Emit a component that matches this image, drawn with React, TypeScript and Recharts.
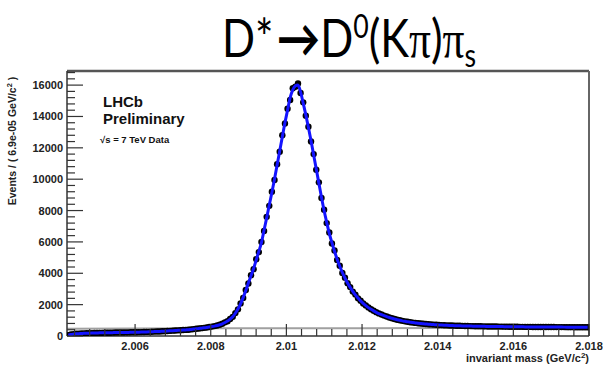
import { ComposedChart, Line, Scatter, XAxis, YAxis, ReferenceLine } from "recharts";

// D* -> D0(K pi) pi_s invariant mass, LHCb preliminary
const X_MIN = 2.0042;
const X_MAX = 2.018;
const BIN_WIDTH = 6.9e-5;
const Y_MAX = 16900;

const X_LABELS = [2.006, 2.008, 2.01, 2.012, 2.014, 2.016, 2.018];
const Y_LABELS = [0, 2000, 4000, 6000, 8000, 10000, 12000, 14000, 16000];

// events per bin (200 bins)
const EVENTS = [
  50, 95, 120, 140, 150, 160, 170, 175, 180, 185,
  190, 195, 200, 200, 205, 210, 210, 215, 220, 220,
  225, 225, 230, 230, 235, 240, 240, 245, 250, 255,
  260, 265, 270, 280, 285, 290, 300, 310, 320, 330,
  340, 350, 360, 370, 380, 390, 400, 420, 440, 460,
  480, 500, 520, 545, 575, 600, 630, 670, 720, 780,
  870, 940, 1090, 1220, 1460, 1700, 2080, 2430, 2930, 3350,
  3880, 4260, 4900, 5350, 6000, 6700, 7600, 8300, 9200, 9950,
  10950, 11750, 12800, 13550, 14500, 15050, 15800, 15900, 16100, 15500,
  14900, 14050, 13350, 12400, 11600, 10600, 9800, 8800, 8050, 7200,
  6600, 5900, 5450, 4850, 4480, 4020, 3720, 3360, 3120, 2830,
  2640, 2400, 2250, 2070, 1950, 1820, 1710, 1610, 1520, 1440,
  1370, 1300, 1240, 1180, 1130, 1085, 1040, 1000, 965, 935,
  905, 880, 855, 835, 815, 798, 782, 767, 752, 740,
  728, 716, 705, 695, 686, 678, 671, 665, 659, 654,
  649, 644, 640, 636, 632, 628, 625, 622, 619, 616,
  613, 610, 607, 605, 603, 601, 599, 597, 595, 593,
  591, 589, 587, 585, 583, 581, 580, 579, 578, 577,
  576, 575, 574, 573, 572, 571, 570, 569, 568, 567,
  566, 565, 564, 563, 562, 561, 560, 559, 558, 557,
];

// fitted model per bin
const FIT = [
  50, 95, 120, 140, 150, 160, 170, 175, 180, 185,
  190, 195, 200, 200, 205, 210, 210, 215, 220, 220,
  225, 225, 230, 230, 235, 240, 240, 245, 250, 255,
  260, 265, 270, 280, 285, 290, 300, 310, 320, 330,
  340, 350, 360, 370, 380, 390, 400, 420, 440, 460,
  480, 500, 520, 545, 575, 600, 630, 670, 720, 780,
  860, 950, 1080, 1230, 1450, 1720, 2050, 2450, 2900, 3380,
  3850, 4300, 4850, 5400, 5950, 6750, 7530, 8350, 9150, 10000,
  10900, 11800, 12700, 13600, 14400, 15200, 15700, 15950, 16000, 15550,
  14850, 14100, 13300, 12450, 11550, 10650, 9750, 8850, 8000, 7250,
  6550, 5950, 5400, 4900, 4450, 4050, 3700, 3380, 3100, 2850,
  2620, 2420, 2240, 2080, 1940, 1810, 1700, 1600, 1510, 1430,
  1360, 1295, 1235, 1180, 1130, 1085, 1040, 1000, 965, 935,
  905, 880, 855, 835, 815, 798, 782, 767, 752, 740,
  728, 716, 705, 695, 686, 678, 671, 665, 659, 654,
  649, 644, 640, 636, 632, 628, 625, 622, 619, 616,
  613, 610, 607, 605, 603, 601, 599, 597, 595, 593,
  591, 589, 587, 585, 583, 581, 580, 579, 578, 577,
  576, 575, 574, 573, 572, 571, 570, 569, 568, 567,
  566, 565, 564, 563, 562, 561, 560, 559, 558, 557,
];

// background component
const BKG_MASS = [2.0042, 2.006, 2.008, 2.01, 2.012, 2.014, 2.016, 2.018];
const BKG = [470, 480, 490, 495, 500, 505, 510, 515];

const data = EVENTS.map((v, i) => ({
  mass: X_MIN + (i + 0.5) * BIN_WIDTH,
  events: v,
  fit: FIT[i],
}));
const bkgData = BKG_MASS.map((m, i) => ({ mass: m, bkg: BKG[i] }));

const r5 = (v: number) => Math.round(v * 1e5) / 1e5;
const xTicks: number[] = [];
for (let k = 0; k <= 35; k++) {
  const t = r5(2.0044 + k * 0.0004);
  if (t <= X_MAX) xTicks.push(t);
}
const yTicks: number[] = [];
for (let v = 0; v <= 16800; v += 400) yTicks.push(v);

const isMajorX = (v: number) => X_LABELS.some((l) => Math.abs(l - v) < 1e-6);
const AXIS = "#333";
const FONT = "'Liberation Sans', Arial, sans-serif";

function XTick(props: any) {
  const { x, y, payload } = props;
  const major = isMajorX(payload.value);
  return (
    <g>
      <line x1={x} y1={y} x2={x} y2={y - (major ? 12 : 7)} stroke={AXIS} strokeWidth={1.2} />
      {major && (
        <text x={x} y={y + 14} textAnchor="middle" fontSize={11} fontWeight="bold" fontFamily={FONT} fill="#222">
          {String(payload.value)}
        </text>
      )}
    </g>
  );
}

function YTick(props: any) {
  const { x, y, payload } = props;
  const major = Y_LABELS.includes(payload.value);
  return (
    <g>
      <line x1={x} y1={y} x2={x + (major ? 16 : 8)} y2={y} stroke={AXIS} strokeWidth={1.2} />
      {major && (
        <text x={x - 4} y={y + 4} textAnchor="end" fontSize={11} fontWeight="bold" fontFamily={FONT} fill="#222">
          {payload.value}
        </text>
      )}
    </g>
  );
}

const DataDot = (props: any) => <circle cx={props.cx} cy={props.cy} r={3.2} fill="#000" />;

export default function App() {
  return (
    <div style={{ position: "absolute", left: 0, top: 0, width: 603, height: 367, background: "#fff" }}>
      <ComposedChart
        width={603}
        height={367}
        data={data}
        margin={{ top: 71, right: 14, bottom: 0, left: 0 }}
      >
        <XAxis
          dataKey="mass"
          type="number"
          domain={[X_MIN, X_MAX]}
          allowDataOverflow
          ticks={xTicks}
          interval={0}
          height={31}
          tickSize={0}
          tickMargin={0}
          tickLine={false}
          tick={<XTick />}
          axisLine={{ stroke: AXIS, strokeWidth: 1.5 }}
        />
        <YAxis
          type="number"
          domain={[0, Y_MAX]}
          allowDataOverflow
          ticks={yTicks}
          interval={0}
          width={67}
          tickSize={0}
          tickMargin={0}
          tickLine={false}
          tick={<YTick />}
          axisLine={{ stroke: AXIS, strokeWidth: 1.5 }}
        />
        <ReferenceLine y={Y_MAX} stroke="#555" strokeWidth={2.5} />
        <ReferenceLine x={X_MAX} stroke="#666" strokeWidth={2} />
        <Line
          data={bkgData}
          dataKey="bkg"
          type="linear"
          stroke="#a0a0a0"
          strokeWidth={2}
          dot={false}
          isAnimationActive={false}
        />
        <Scatter dataKey="events" shape={<DataDot />} isAnimationActive={false} />
        <Line
          dataKey="fit"
          type="monotone"
          stroke="#1414ff"
          strokeWidth={3}
          dot={false}
          isAnimationActive={false}
          zIndex={1000}
        />
      </ComposedChart>
      <svg width={603} height={367} style={{ position: "absolute", left: 0, top: 0, pointerEvents: "none" }}>
        <text
          transform="translate(222,57) scale(0.835,1)"
          x={0}
          y={0}
          fontSize={52}
          fontFamily="Lato, 'Open Sans', sans-serif"
          fill="#000"
        >
          D*
          <tspan fontWeight="bold" dx={4}>→</tspan>
          <tspan>D</tspan>
          <tspan dy={-19} fontSize={32}>0</tspan>
          <tspan dy={19}>(K</tspan>
          <tspan fontFamily="'Liberation Serif', serif">π</tspan>
          <tspan>)</tspan>
          <tspan fontFamily="'Liberation Serif', serif">π</tspan>
          <tspan dy={10} fontSize={32}>s</tspan>
        </text>
        <text x={103} y={107} fontSize={15} fontWeight="bold" fontFamily={FONT} fill="#111">LHCb</text>
        <text x={103} y={124} fontSize={15} fontWeight="bold" fontFamily={FONT} fill="#111">Preliminary</text>
        <text x={100} y={143} fontSize={9.5} fontWeight="bold" fontFamily={FONT} fill="#111">√s = 7 TeV Data</text>
        <text x={589} y={362} textAnchor="end" fontSize={11} fontWeight="bold" fontFamily={FONT} fill="#222">
          invariant mass (GeV/c<tspan dy={-4} fontSize={8}>2</tspan><tspan dy={4}>)</tspan>
        </text>
        <text
          transform="translate(16,141) rotate(-90)"
          textAnchor="middle"
          fontSize={10.5}
          fontWeight="bold"
          fontFamily={FONT}
          fill="#222"
        >
          Events / ( 6.9e-05 GeV/c<tspan dy={-4} fontSize={7.5}>2</tspan><tspan dy={4}> )</tspan>
        </text>
      </svg>
    </div>
  );
}
